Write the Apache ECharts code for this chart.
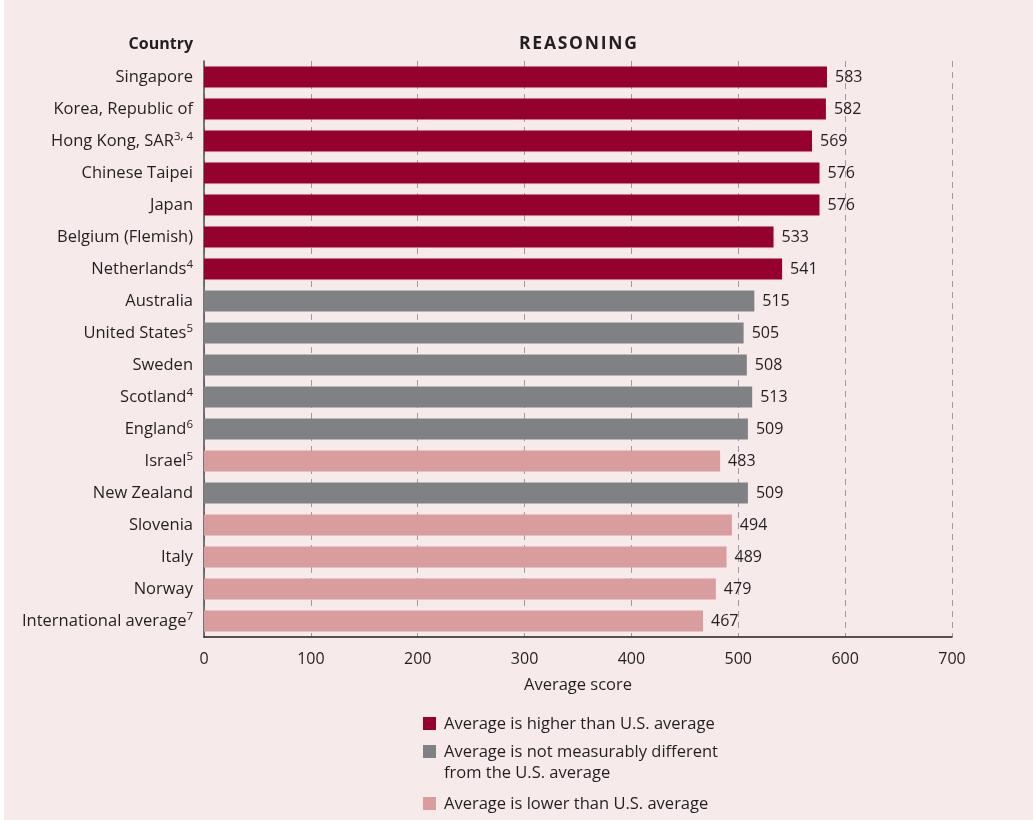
<!DOCTYPE html>
<html>
<head>
<meta charset="utf-8">
<script src="https://cdn.jsdelivr.net/npm/echarts@6/dist/echarts.min.js"></script>
<style>
  html, body { margin: 0; padding: 0; background: #ffffff; }
  #reasoning { position: absolute; left: 4px; top: 0; width: 1029px; height: 820px; background: #f6eaea; }
</style>
</head>
<body>
<div id="reasoning"></div>
<script>
/* reasoning scores by country */
var countries = ['Singapore', 'Korea, Republic of', 'Hong Kong, SAR', 'Chinese Taipei', 'Japan',
  'Belgium (Flemish)', 'Netherlands', 'Australia', 'United States', 'Sweden', 'Scotland',
  'England', 'Israel', 'New Zealand', 'Slovenia', 'Italy', 'Norway', 'International average'];
var footnotes = ['', '', '3, 4', '', '', '', '4', '', '5', '', '4', '6', '5', '', '', '', '', '7'];
var scores = [583, 582, 569, 576, 576, 533, 541, 515, 505, 508, 513, 509, 483, 509, 494, 489, 479, 467];
// 0 = higher, 1 = not different, 2 = lower than U.S. average
var groups = [0, 0, 0, 0, 0, 0, 0, 1, 1, 1, 1, 1, 2, 1, 2, 2, 2, 2];
var groupNames = ['Average is higher than U.S. average',
  'Average is not measurably different\nfrom the U.S. average',
  'Average is lower than U.S. average'];
var groupColors = ['#96002e', '#808184', '#d89d9c'];
var xTicks = [0, 100, 200, 300, 400, 500, 600, 700];

var font = '"Open Sans", sans-serif';
var textColor = '#231f20';

function reasoning(){
  var el = document.getElementById('reasoning');
  var chart = echarts.init(el);

  var series = groupNames.map(function(name, g){
    return {
      name: name,
      type: 'bar',
      stack: 'score',
      barWidth: 21,
      itemStyle: { color: groupColors[g] },
      label: {
        show: true,
        position: 'right',
        distance: 8,
        fontFamily: font,
        fontSize: 16,
        color: textColor
      },
      data: scores.map(function(v, i){ return groups[i] === g ? v : '-'; })
    };
  });

  // legend drawn as graphic so the two-line entry keeps its box on the first line
  var legendY = [717, 745, 797];
  var legendItems = [];
  groupNames.forEach(function(name, g){
    legendItems.push({
      type: 'rect',
      left: 419, top: legendY[g],
      shape: { width: 13, height: 13 },
      style: { fill: groupColors[g] }
    });
    legendItems.push({
      type: 'text',
      left: 440, top: legendY[g] - 3,
      style: { text: name, font: '16.5px ' + font, fill: textColor, lineHeight: 21 }
    });
  });

  var option = {
    animation: false,
    grid: { left: 200, right: 81, top: 61, bottom: 183, containLabel: false },
    xAxis: {
      type: 'value',
      min: 0,
      max: 700,
      interval: 100,
      name: 'Average score',
      nameLocation: 'middle',
      nameGap: 40,
      nameTextStyle: { fontFamily: font, fontSize: 16.5, color: textColor },
      axisLine: { show: true, lineStyle: { color: '#231f20', width: 1.5 } },
      axisTick: { show: false },
      axisLabel: {
        fontFamily: font, fontSize: 16, color: textColor, margin: 14,
        formatter: function(v){ return xTicks.indexOf(v) >= 0 ? String(v) : ''; }
      },
      splitLine: { show: true, lineStyle: { color: '#9d9d9f', width: 1, type: [6, 5] } }
    },
    yAxis: {
      type: 'category',
      inverse: true,
      data: countries,
      axisLine: { show: true, lineStyle: { color: '#4d4d4f', width: 1.5 } },
      axisTick: { show: false },
      axisLabel: {
        margin: 11,
        fontFamily: font, fontSize: 16.5, color: textColor,
        formatter: function(v, i){
          return footnotes[i] ? v + '{sup|' + footnotes[i] + '}' : v;
        },
        rich: {
          sup: { fontFamily: font, fontSize: 11.5, color: textColor, verticalAlign: 'top', padding: [0, 0, 8, 0] }
        }
      }
    },
    graphic: [
      { type: 'text', x: 189, y: 44,
        style: { text: 'Country', font: 'bold 16px ' + font, fill: textColor, align: 'right', verticalAlign: 'middle' } },
      { type: 'text', x: 574, y: 44,
        style: { text: 'R E A S O N I N G'.replace(/ /g, '\u200A'), font: 'bold 17.5px ' + font, fill: textColor, align: 'center', verticalAlign: 'middle' } }
    ].concat(legendItems),
    series: series
  };

  chart.setOption(option);
  window.addEventListener('resize', function(){
    chart.resize();
  });
}
reasoning();
</script>
</body>
</html>
